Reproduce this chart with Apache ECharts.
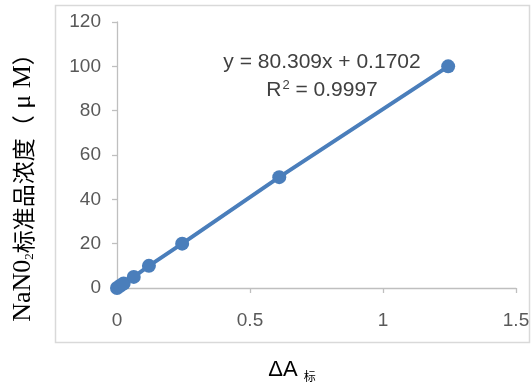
<!DOCTYPE html>
<html>
<head>
<meta charset="utf-8">
<script src="https://cdn.jsdelivr.net/npm/echarts@6/dist/echarts.min.js"></script>
<style>html,body{margin:0;padding:0;background:#fff}#c{width:531px;height:390px}</style>
</head>
<body>
<div id="c"></div>
<script>
var deltaA = [0, 0.012, 0.025, 0.063, 0.12, 0.245, 0.61, 1.245];
var conc = [0, 1, 2, 5, 10, 20, 50, 100];
var xTicks = [0, 0.5, 1, 1.5];
var yTicks = [0, 20, 40, 60, 80, 100, 120];
var eqLine1 = 'y = 80.309x + 0.1702';
var eqLine2 = 'R{sup|2} = 0.9997';
var yTitle = '{lat|NaN0}{sub|2}{cjk|标准品浓度（}{lat| μ M}{cjk|）}';
var xTitle = 'ΔA{sub|标}';

var pts = deltaA.map(function (x, i) { return [x, conc[i]]; });
var chart = echarts.init(document.getElementById('c'));
var axisGray = '#bfbfbf';
var labelGray = '#595959';
var sans = 'Liberation Sans, Arial, sans-serif';
var serif = 'Liberation Serif, Times New Roman, serif';
chart.setOption({
  animation: false,
  grid: { left: 117, right: 15, top: 22, bottom: 102, outerBoundsMode: 'none', containLabel: false },
  xAxis: {
    type: 'value', min: xTicks[0], max: xTicks[xTicks.length - 1], interval: 0.5,
    axisLine: { show: true, lineStyle: { color: axisGray, width: 1.3 } },
    axisTick: { show: true, length: 5, lineStyle: { color: axisGray, width: 1.3 } },
    splitLine: { show: false },
    axisLabel: { color: labelGray, fontSize: 19, margin: 23, fontFamily: sans,
      formatter: function (v) { return String(v); } }
  },
  yAxis: {
    type: 'value', min: yTicks[0], max: yTicks[yTicks.length - 1], interval: 20,
    axisLine: { show: true, lineStyle: { color: axisGray, width: 1.3 } },
    axisTick: { show: true, length: 5, lineStyle: { color: axisGray, width: 1.3 } },
    splitLine: { show: false },
    axisLabel: { color: labelGray, fontSize: 19, margin: 16, fontFamily: sans }
  },
  graphic: [
    { type: 'rect', shape: { x: 55.5, y: 5.5, width: 474, height: 337 }, style: { fill: 'none', stroke: '#d9d9d9', lineWidth: 1.5 }, z: -1 },
    { type: 'text', x: 322, y: 62, style: { text: eqLine1, fontSize: 21, fill: '#404040', align: 'center', verticalAlign: 'middle', fontFamily: sans } },
    { type: 'text', x: 322, y: 90, style: { text: eqLine2, fontSize: 21, fill: '#404040', align: 'center', verticalAlign: 'middle', fontFamily: sans,
      rich: { sup: { fontSize: 13, fill: '#404040', padding: [0, 0, 9, 1], fontFamily: sans } } } },
    { type: 'text', x: 23, y: 182, rotation: Math.PI / 2,
      style: { text: yTitle, fontSize: 23, fill: '#000', align: 'center', verticalAlign: 'middle',
        fontFamily: serif,
        rich: {
          lat: { fontSize: 26, fill: '#000', fontFamily: serif },
          cjk: { fontSize: 23, fill: '#000', fontFamily: 'Noto Sans CJK SC, sans-serif' },
          sub: { fontSize: 13, fill: '#000', padding: [14, 0, 0, 0], fontFamily: serif }
        } } },
    { type: 'text', x: 292, y: 370,
      style: { text: xTitle, fontSize: 22, fill: '#000', align: 'center', verticalAlign: 'middle', fontFamily: sans,
        rich: { sub: { fontSize: 12, fill: '#000', padding: [12, 0, 0, 6], fontFamily: 'Noto Sans CJK SC' } } } }
  ],
  series: [{
    type: 'line', data: pts, symbol: 'circle', symbolSize: 14,
    itemStyle: { color: '#4a7ebb' },
    lineStyle: { color: '#4a7ebb', width: 4 },
    clip: false
  }]
});
</script>
</body>
</html>
